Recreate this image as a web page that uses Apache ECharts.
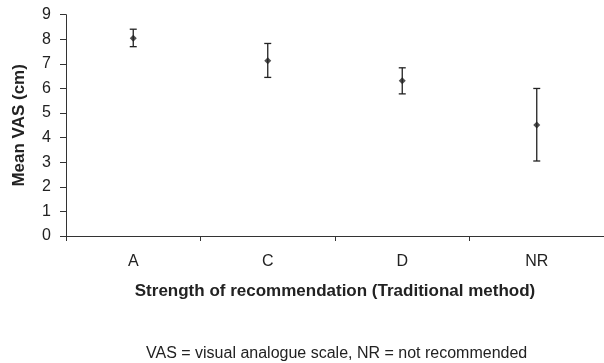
<!DOCTYPE html>
<html><head><meta charset="utf-8">
<script src="https://cdn.jsdelivr.net/npm/echarts@6/dist/echarts.min.js"></script>
<style>html,body{margin:0;padding:0;background:#fff}#c{width:604px;height:363px}</style>
</head><body><div id="c"></div>
<script>
const categories = ['A', 'C', 'D', 'NR'];
const means = [8.04, 7.13, 6.31, 4.51];
const upper = [8.41, 7.83, 6.84, 6.0];
const lower = [7.70, 6.45, 5.78, 3.05];
const yTicks = [0, 1, 2, 3, 4, 5, 6, 7, 8, 9];

const chart = echarts.init(document.getElementById('c'));
const font = 'Liberation Sans, Arial, sans-serif';
chart.setOption({
  animation: false,
  title: {
    text: 'VAS = visual analogue scale, NR = not recommended',
    left: 141, top: 341,
    textStyle: { fontFamily: font, fontSize: 16, fontWeight: 'normal', color: '#222' }
  },
  grid: { left: 66, right: 0, top: 14.7, bottom: 127 },
  xAxis: {
    type: 'category', data: categories, boundaryGap: true,
    name: 'Strength of recommendation (Traditional method)',
    nameLocation: 'middle', nameGap: 47,
    nameTextStyle: { fontFamily: font, fontSize: 17, fontWeight: 'bold', color: '#222' },
    axisLine: { lineStyle: { color: '#333', width: 1 } },
    axisTick: { show: true, length: 5, lineStyle: { color: '#333' } },
    axisLabel: { fontFamily: font, fontSize: 16, color: '#222', margin: 18 }
  },
  yAxis: {
    type: 'value', min: yTicks[0], max: yTicks[yTicks.length - 1], interval: 1,
    name: 'Mean VAS (cm)', nameLocation: 'middle', nameGap: 38,
    nameTextStyle: { fontFamily: font, fontSize: 17, fontWeight: 'bold', color: '#222' },
    axisLine: { show: true, lineStyle: { color: '#333', width: 1 } },
    axisTick: { show: true, length: 6, lineStyle: { color: '#333' } },
    axisLabel: { fontFamily: font, fontSize: 16, color: '#222', margin: 15 },
    splitLine: { show: false }
  },
  series: [
    {
      type: 'custom',
      renderItem: function (params, api) {
        const x = api.value(0);
        const top = api.coord([x, api.value(1)]);
        const bot = api.coord([x, api.value(2)]);
        const hw = 3.5;
        const style = { stroke: '#222', lineWidth: 1.3 };
        return {
          type: 'group',
          children: [
            { type: 'line', shape: { x1: top[0], y1: top[1], x2: bot[0], y2: bot[1] }, style: style },
            { type: 'line', shape: { x1: top[0] - hw, y1: top[1], x2: top[0] + hw, y2: top[1] }, style: style },
            { type: 'line', shape: { x1: bot[0] - hw, y1: bot[1], x2: bot[0] + hw, y2: bot[1] }, style: style }
          ]
        };
      },
      data: categories.map((c, i) => [i, upper[i], lower[i]]),
      z: 2
    },
    {
      type: 'scatter',
      symbol: 'diamond', symbolSize: 7,
      itemStyle: { color: '#222' },
      data: means,
      z: 3
    }
  ]
});
</script></body></html>
